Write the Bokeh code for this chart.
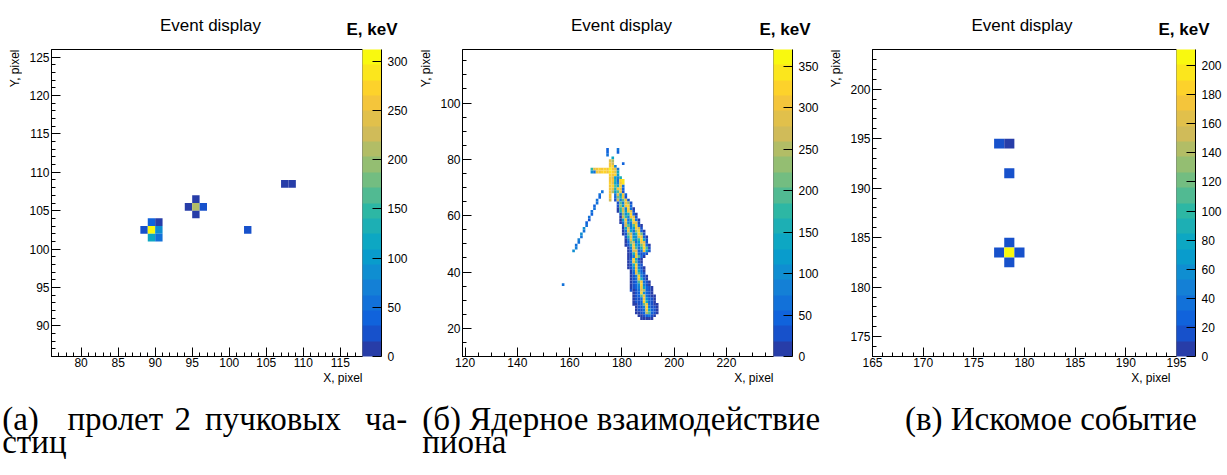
import numpy as np
from bokeh.plotting import figure
from bokeh.models import (Range1d, LinearAxis, SingleIntervalTicker, FixedTicker,
                          LinearColorMapper, ColorBar, Label, ColumnDataSource)
from bokeh.layouts import row, column
from bokeh.embed import file_html
from bokeh.resources import INLINE

# ---------------- data ----------------
# panel (а): cells (left edge of bin), energies in keV
a_x = [88, 89, 90, 89, 90, 89, 90, 94, 95, 96, 95, 95, 102, 107, 108]
a_y = [102, 102, 102, 103, 103, 101, 101, 105, 105, 105, 106, 104, 102, 108, 108]
a_e = [25, 312, 80, 40, 10, 110, 60, 10, 210, 25, 10, 10, 25, 10, 10]

# panel (в)
c_x = [177, 178, 178, 178, 177, 178, 179, 178]
c_y = [194, 194, 191, 184, 183, 183, 183, 182]
c_e = [15, 8, 15, 15, 15, 211, 15, 15]

# panel (б): rows of the track -> (Y, first X, energies along X)
b_rows = [
    (83, 174, [55]), (83, 178, [60]),
    (82, 174, [50]), (82, 178, [55]),
    (81, 174, [60]),
    (80, 176, [140]),
    (79, 175, [290, 250]),
    (78, 175, [300, 270]), (78, 180, [50]),
    (77, 175, [310, 320, 90]),
    (76, 168, [180, 290, 300, 320, 310, 330, 300, 370, 310, 290, 60]),
    (75, 168, [100, 60, 300, 310, 330, 320, 300, 340, 330, 280, 140]),
    (74, 175, [320, 300, 330, 120]),
    (73, 175, [310, 290, 120, 80, 150]),
    (72, 175, [300, 310, 150, 60, 330, 340]),
    (71, 175, [320, 280, 130, 90, 300, 350]),
    (70, 175, [300, 330, 200, 140, 320, 60]),
    (69, 175, [310, 290, 160, 310, 280, 40]),
    (68, 175, [300, 250, 120, 200, 300, 30]),
    (67, 175, [310]), (67, 177, [60, 280, 120, 300, 40]),
    (66, 175, [300]), (66, 177, [40, 220, 150, 310, 20]),
    (65, 175, [270]), (65, 177, [20, 260, 90, 200, 310, 30]),
    (64, 178, [30, 200, 90, 310, 240, 20]),
    (63, 178, [20, 230, 120, 300, 320, 40]),
    (62, 178, [10, 180, 260, 80, 330, 60, 10]),
    (61, 178, [10, 150, 280, 120, 300, 290, 30]),
    (60, 179, [20, 240, 100, 160, 330, 40, 10]),
    (59, 179, [10, 270, 180, 90, 310, 280, 30]),
    (58, 179, [10, 120, 300, 70, 150, 320, 60, 10]),
    (57, 179, [10, 60, 280, 110, 90, 300, 290, 30]),
    (56, 180, [20, 260, 190, 60, 200, 330, 40, 10]),
    (55, 180, [10, 140, 290, 80, 120, 310, 260, 30]),
    (54, 180, [10, 60, 300, 130, 70, 240, 320, 50, 10]),
    (53, 180, [10, 30, 220, 260, 90, 150, 330, 220, 20]),
    (52, 181, [20, 160, 310, 110, 100, 290, 300, 40, 10]),
    (51, 181, [10, 80, 290, 150, 80, 180, 330, 130, 20]),
    (50, 181, [10, 40, 240, 250, 70, 120, 310, 280, 30]),
    (49, 181, [10, 20, 150, 300, 130, 90, 220, 330, 60, 10]),
    (48, 182, [10, 80, 310, 200, 60, 150, 320, 200, 20]),
    (47, 182, [10, 40, 260, 280, 40, 60, 300, 120, 20]),
    (46, 182, [10, 30, 150, 310, 60, 30, 40, 20]),
    (45, 182, [10, 20, 90, 300, 200, 40, 10]),
    (44, 182, [10, 40, 320, 150, 30, 10]),
    (43, 182, [10, 60, 300, 200, 40, 10]),
    (42, 182, [10, 30, 150, 320, 60, 20]),
    (41, 182, [10, 20, 110, 300, 90, 30, 10]),
    (40, 183, [10, 60, 310, 140, 40, 10]),
    (39, 183, [10, 40, 290, 200, 60, 20]),
    (38, 183, [10, 30, 90, 320, 80, 30, 10]),
    (37, 183, [10, 20, 70, 300, 150, 40, 10]),
    (36, 183, [10, 20, 50, 200, 310, 60, 20, 10]),
    (35, 183, [10, 20, 40, 100, 320, 90, 30, 10]),
    (34, 183, [10, 20, 40, 90, 300, 140, 40, 20, 10]),
    (33, 183, [20, 10, 30, 60, 280, 250, 50, 20, 10]),
    (32, 184, [10, 20, 50, 320, 110, 40, 20, 10]),
    (31, 184, [10, 20, 40, 200, 300, 60, 30, 10, 10]),
    (30, 184, [10, 20, 30, 60, 310, 100, 40, 20, 10]),
    (29, 184, [10, 20, 30, 50, 330, 150, 40, 20, 10]),
    (28, 184, [10, 10, 20, 40, 220, 300, 60, 30, 10, 10]),
    (27, 185, [10, 20, 30, 90, 320, 60, 30, 20, 10]),
    (26, 185, [10, 20, 30, 60, 300, 130, 40, 20, 10]),
    (25, 185, [10, 10, 20, 40, 250, 200, 40, 20, 10]),
    (24, 186, [10, 10, 20, 40, 60, 30, 10]),
    (23, 187, [10, 10, 10, 10, 10]),
]
# side branch and isolated hit of panel (б)
br_x = [161, 162, 162, 163, 163, 164, 164, 165, 165, 166, 166, 167, 167, 168, 168,
        169, 169, 170, 170, 171, 171, 172, 157]
br_y = [47, 48, 49, 50, 51, 52, 53, 54, 55, 56, 57, 58, 59, 60, 61,
        62, 63, 64, 65, 66, 67, 68, 35]
br_e = [110, 90, 70, 60, 80, 60, 100, 70, 110, 60, 50, 30, 60, 50, 70,
        60, 50, 60, 70, 50, 60, 70, 60]

title_text = "Event display"
z_title = "E, keV"
x_title = "X, pixel"
y_title = "Y, pixel"
cap_a1 = ["(а)", "пролет", "2", "пучковых", "ча-"]
cap_a2 = "стиц"
cap_b1 = "(б) Ядерное взаимодействие"
cap_b2 = "пиона"
cap_c1 = "(в) Искомое событие"

# ---------------- palette (ROOT kBird, 20 contour levels) ----------------
bird_stops = [0.0, 0.125, 0.25, 0.375, 0.5, 0.625, 0.75, 0.875, 1.0]
bird_r = [0.2082, 0.0592, 0.0780, 0.0232, 0.1802, 0.5301, 0.8186, 0.9956, 0.9764]
bird_g = [0.1664, 0.3599, 0.5041, 0.6419, 0.7178, 0.7492, 0.7328, 0.7862, 0.9832]
bird_b = [0.5293, 0.8684, 0.8385, 0.7914, 0.6425, 0.4662, 0.3499, 0.1968, 0.0539]
N_LEV = 20
PAL = []
for i in range(N_LEV):
    t = int((i + 0.99) * 255 / N_LEV) / 255.0
    rgb = [int(round(255 * np.interp(t, bird_stops, c))) for c in (bird_r, bird_g, bird_b)]
    PAL.append("#%02x%02x%02x" % tuple(rgb))

# expand panel (б) rows
b_x, b_y, b_e = [], [], []
for yy, x0, es in b_rows:
    for k, ee in enumerate(es):
        b_x.append(x0 + k)
        b_y.append(yy)
        b_e.append(ee)
b_x += br_x
b_y += br_y
b_e += br_e

SANS = "Liberation Sans"
SERIF = "Liberation Serif"
FH = 307
TOTAL_W = 1211
TOP_H = 49
PAN_BOTTOM = 16
BOT_H = 459 - TOP_H - FH - PAN_BOTTOM
YL_W = 22
LEFT_B = 29
BL = 0.33   # baseline correction (fraction of font size)


def bare(w, h):
    f = figure(width=w, height=h, x_range=Range1d(0, w), y_range=Range1d(0, h),
               min_border=0, x_axis_location=None, y_axis_location=None,
               outline_line_color=None, output_backend="svg", toolbar_location=None)
    f.grid.visible = False
    f.title.visible = False
    return f


def panel(xs, ys, es, xr, yr, xstep, xminor, ystep, yminor, zstep, fw, right):
    zmax = max(es)
    p = figure(frame_width=fw, frame_height=FH, x_range=Range1d(*xr), y_range=Range1d(*yr),
               min_border_left=LEFT_B, min_border_right=right, min_border_top=0,
               min_border_bottom=PAN_BOTTOM, output_backend="svg", toolbar_location=None)
    p.title.visible = False
    p.grid.visible = False
    p.outline_line_color = "black"
    p.outline_line_width = 1

    mapper = LinearColorMapper(palette=PAL, low=0, high=zmax)
    src = ColumnDataSource(dict(x0=xs, x1=[v + 1 for v in xs], y0=ys, y1=[v + 1 for v in ys], e=es))
    p.quad(left="x0", right="x1", bottom="y0", top="y1", source=src,
           fill_color={"field": "e", "transform": mapper}, line_color=None)

    p.xaxis.ticker = SingleIntervalTicker(interval=xstep, num_minor_ticks=xminor)
    p.yaxis.ticker = SingleIntervalTicker(interval=ystep, num_minor_ticks=yminor)
    for ax in (p.xaxis[0], p.yaxis[0]):
        ax.major_tick_in = 9
        ax.major_tick_out = 0
        ax.minor_tick_in = 4
        ax.minor_tick_out = 0
        ax.axis_line_color = "black"
        ax.major_tick_line_color = "black"
        ax.minor_tick_line_color = "black"
        ax.major_label_text_font = SANS
        ax.major_label_text_font_size = "12px"
        ax.major_label_text_color = "black"
    p.xaxis.major_label_standoff = 1
    p.yaxis.major_label_standoff = 2

    cb = ColorBar(color_mapper=mapper, width=19, height=FH, padding=0, margin=0,
                  location="top_left", ticker=FixedTicker(ticks=[]),
                  major_tick_line_color=None, minor_tick_line_color=None,
                  major_label_text_font_size="0px", bar_line_color=None,
                  border_line_color=None)
    p.add_layout(cb, "right")

    p.extra_y_ranges = {"z": Range1d(0, zmax)}
    zax = LinearAxis(y_range_name="z", ticker=SingleIntervalTicker(interval=zstep, num_minor_ticks=2))
    zax.major_tick_in = 9
    zax.major_tick_out = 0
    zax.minor_tick_line_color = None
    zax.axis_line_color = "black"
    zax.major_tick_line_color = "black"
    zax.major_label_text_font = SANS
    zax.major_label_text_font_size = "12px"
    zax.major_label_text_color = "black"
    zax.major_label_standoff = 2
    zax.level = "overlay"
    p.add_layout(zax, "right")
    return p


def ylab(h):
    f = bare(YL_W, h)
    f.add_layout(Label(x=18.3 - BL * 12, y=h, angle=np.pi / 2, text=y_title, text_align="right",
                       text_baseline="alphabetic", text_font=SANS, text_font_size="12px",
                       text_color="black"))
    return f


PH = FH + PAN_BOTTOM
p1 = panel(a_x, a_y, a_e, (76, 118), (86, 126), 5, 5, 5, 5, 50, 311, 49)
p2 = panel(b_x, b_y, b_e, (119, 238), (10, 119), 20, 4, 20, 4, 50, 311, 42)
p3 = panel(c_x, c_y, c_e, (165, 195), (173, 204), 5, 5, 5, 5, 20, 304, 41)

# frame geometry (pixels from the left of the page) for the texts around the panels
frame_left = [51, 462, 866]
frame_w = [311, 311, 304]
frame_right = [l + w for l, w in zip(frame_left, frame_w)]

top = bare(TOTAL_W, TOP_H)
z_right = [397, 810, 1209]
for i in range(3):
    top.add_layout(Label(x=frame_left[i] + frame_w[i] / 2 + 3.5, y=TOP_H - 30.7 + BL * 17,
                         text=title_text, text_align="center", text_baseline="alphabetic",
                         text_font=SANS, text_font_size="17px", text_color="black"))
    top.add_layout(Label(x=z_right[i], y=TOP_H - 35 + BL * 17, text=z_title, text_align="right",
                         text_baseline="alphabetic", text_font=SANS, text_font_size="17px",
                         text_font_style="bold", text_color="black"))

bot = bare(TOTAL_W, BOT_H)
BOT_TOP = TOP_H + PH
for i in range(3):
    bot.add_layout(Label(x=frame_right[i], y=BOT_H - (381.3 - BOT_TOP) + BL * 12, text=x_title,
                         text_align="right", text_baseline="alphabetic", text_font=SANS,
                         text_font_size="12px", text_color="black"))

CAP_FS = 33
L1 = BOT_H - (429.5 - BOT_TOP) + BL * CAP_FS
L2 = BOT_H - (452 - BOT_TOP) + BL * CAP_FS


def ctext(x, y, t, align):
    bot.add_layout(Label(x=x, y=y, text=t, text_align=align, text_baseline="alphabetic",
                         text_font=SERIF, text_font_size="%dpx" % CAP_FS, text_color="black"))


ctext(1.7, L1, cap_a1[0], "left")
ctext(114.8, L1, cap_a1[1], "center")
ctext(182.3, L1, cap_a1[2], "center")
ctext(272.5, L1, cap_a1[3], "center")
ctext(406.7, L1, cap_a1[4], "right")
ctext(1.7, L2, cap_a2, "left")
ctext(421.7, L1, cap_b1, "left")
ctext(421.7, L2, cap_b2, "left")
ctext(1050.5, L1, cap_c1, "center")

mid = row(ylab(PH), p1, ylab(PH), p2, ylab(PH), p3)
layout = column(top, mid, bot)
open("out.html", "w").write(file_html(layout, INLINE))
